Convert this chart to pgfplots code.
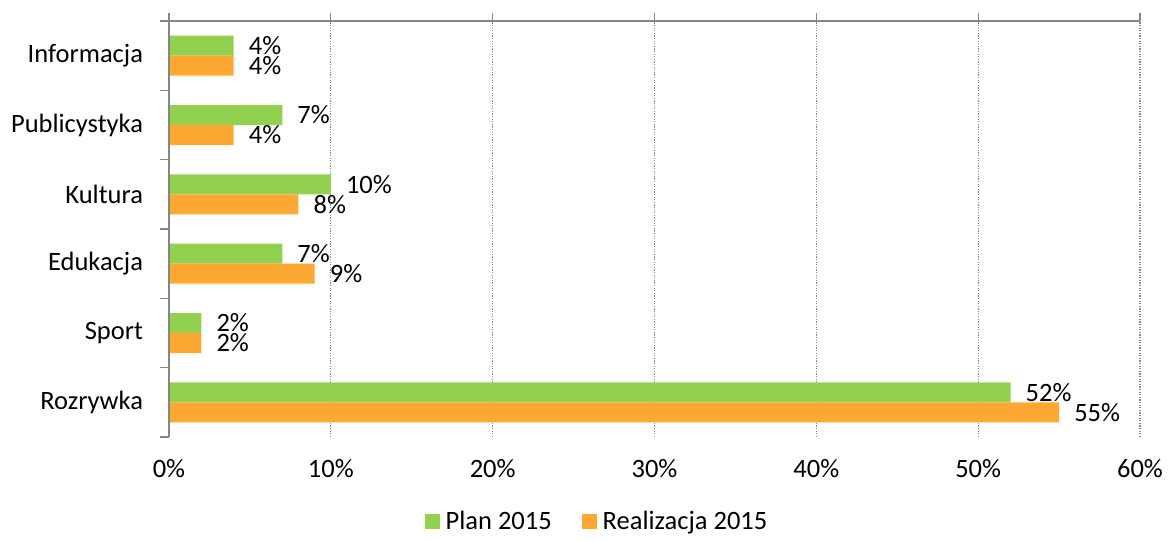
\documentclass[border=0pt]{standalone}
\usepackage{pgfplots}
\pgfplotsset{compat=1.18}
\usepackage{fontspec}
\setmainfont{Carlito}
\definecolor{cgreen}{HTML}{92D050}
\definecolor{corange}{HTML}{FDA833}
\definecolor{axgray}{HTML}{868686}
\begin{document}
\fontsize{26.5bp}{31bp}\selectfont
\begin{tikzpicture}
\useasboundingbox (-169bp,-104bp) rectangle (1001bp,437bp);
\begin{axis}[
  at={(0,0)}, anchor=south west,
  scale only axis, width=971bp, height=416bp,
  xmin=0, xmax=60, ymin=-0.5, ymax=5.5,
  axis line style={draw=none},
  xtick pos=right, xticklabel pos=left,
  ytick pos=left, yticklabel pos=left,
  xtick={0,10,...,60},
  xticklabels={0\%,10\%,20\%,30\%,40\%,50\%,60\%},
  xticklabel style={yshift=-5bp},
  ytick={0,...,5},
  yticklabels={Rozrywka,Sport,Edukacja,Kultura,Publicystyka,Informacja},
  yticklabel style={xshift=-9bp},
  minor ytick={-0.5,0.5,...,5.5},
  major y tick style={draw=none},
  minor y tick style={axgray, line width=1.3bp},
  major x tick style={axgray, line width=1.3bp},
  tick align=outside,
  major tick length=8bp,
  minor tick length=9bp,
  xmajorgrids,
  grid style={axgray, line width=1.3bp, dash pattern=on 1.3bp off 1.3bp},
  /pgf/number format/assume math mode=true,
  xbar, bar width=20bp,
  point meta=x,
  nodes near coords={\pgfmathprintnumber{\pgfplotspointmeta}\%},
  nodes near coords style={anchor=west, inner sep=0pt, xshift=15bp, text=black},
  legend style={at={(0.4408,-0.204)}, anchor=center, draw=none, legend columns=2,
    /tikz/every even column/.append style={column sep=28bp}},
  legend image code/.code={\fill[#1] (0bp,-7.5bp) rectangle (15bp,7.5bp); \path (0bp,0bp) -- (19bp,0bp);},
  after end axis/.code={
    \draw[axgray, line width=1.3bp] (rel axis cs:0,0) -- (rel axis cs:0,1) -- (rel axis cs:1,1);
  },
]
\addplot[xbar, fill=cgreen, draw=none, bar shift=10bp] coordinates {(4,5) (7,4) (10,3) (7,2) (2,1) (52,0)};
\addlegendentry{Plan 2015}
\addplot[xbar, fill=corange, draw=none, bar shift=-10bp] coordinates {(4,5) (4,4) (8,3) (9,2) (2,1) (55,0)};
\addlegendentry{Realizacja 2015}
\end{axis}
\end{tikzpicture}
\end{document}
